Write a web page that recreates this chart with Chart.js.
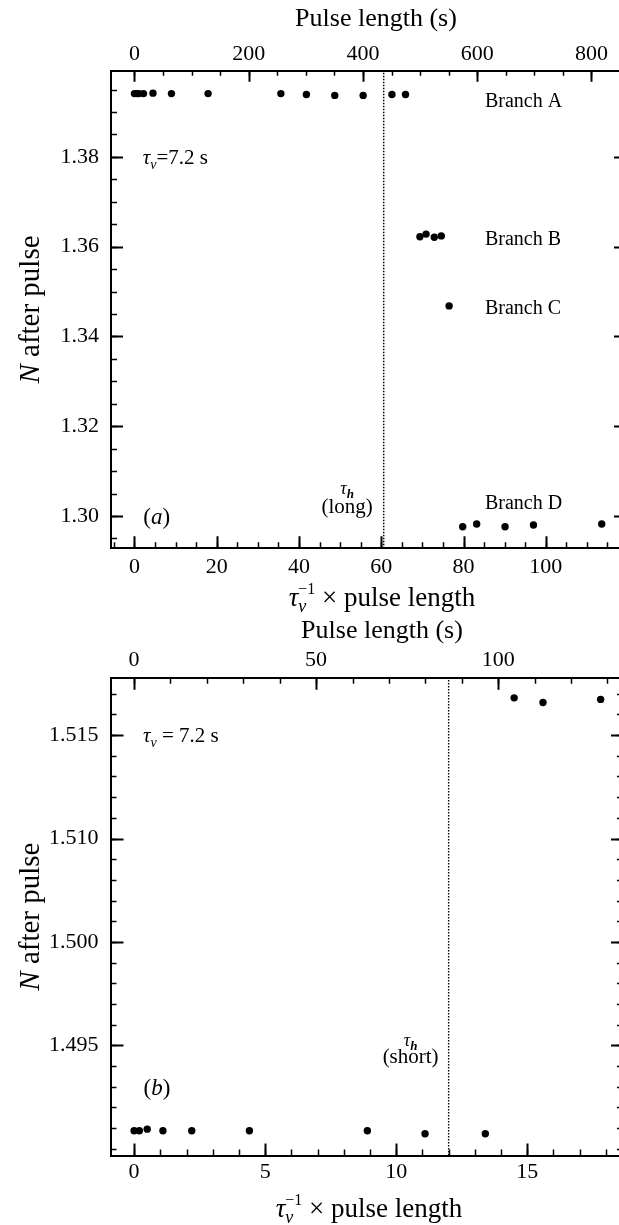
<!DOCTYPE html>
<html>
<head>
<meta charset="utf-8">
<title>N after pulse</title>
<script src="https://cdn.jsdelivr.net/npm/chart.js@4.4.1/dist/chart.umd.min.js"></script>
<style>
  html, body { margin: 0; padding: 0; background: #fff; }
  #wrap { position: relative; width: 619px; height: 1225px; overflow: hidden; }
  canvas { position: absolute; left: 0; }
  #chartA { top: 0; }
  #chartB { top: 615px; }
</style>
</head>
<body>
<div id="wrap">
  <canvas id="chartA" width="619" height="615"></canvas>
  <canvas id="chartB" width="619" height="610"></canvas>
</div>
<script>
const TAU_V = 7.2; // s, converts tau_v^-1 x pulse length into seconds

// ---- panel (a): long tau_h ----
const branchA_x = [0, 0.6, 1.1, 2.2, 4.5, 9.0, 17.9, 35.6, 41.8, 48.7, 55.6, 62.6, 65.9];
const branchA_N = [1.3941, 1.3941, 1.3941, 1.3941, 1.3942, 1.3941, 1.3941, 1.3941, 1.3939, 1.3937, 1.3937, 1.3939, 1.3939];
const branchB_x = [69.4, 70.9, 72.9, 74.6];
const branchB_N = [1.3622, 1.3628, 1.3621, 1.3624];
const branchC_x = [76.5];
const branchC_N = [1.3468];
const branchD_x = [79.8, 83.2, 90.1, 97.0, 113.6];
const branchD_N = [1.2976, 1.2982, 1.2976, 1.2980, 1.2982];
const tauH_long = 60.6;

const xTicksA = [0, 20, 40, 60, 80, 100];
const pulseTicksA = [0, 200, 400, 600, 800];
const yTicksA = [1.30, 1.32, 1.34, 1.36, 1.38];

// ---- panel (b): short tau_h ----
const lowB_x = [0, 0.2, 0.5, 1.1, 2.2, 4.4, 8.9, 11.1, 13.4];
const lowB_N = [1.4895, 1.4895, 1.4896, 1.4895, 1.4895, 1.4895, 1.4895, 1.4893, 1.4893];
const highB_x = [14.5, 15.6, 17.8];
const highB_N = [1.5174, 1.5171, 1.5173];
const tauH_short = 12.0;

const xTicksB = [0, 5, 10, 15];
const pulseTicksB = [0, 50, 100];
const yTicksB = [1.495, 1.50167, 1.50833, 1.515];
const yLabelsB = ['1.495', '1.500', '1.510', '1.515'];

const SERIF = '"Liberation Serif", "Times New Roman", Times, serif';
const font = (px, style) => (style ? style + ' ' : '') + px + 'px ' + SERIF;

function pts(xs, ys) { return xs.map((x, i) => ({ x: x, y: ys[i] })); }
function range(from, to, step) {
  const out = [];
  const n = Math.round((to - from) / step);
  for (let i = 0; i <= n; i++) out.push(Math.round((from + i * step) * 1e6) / 1e6);
  return out;
}

function dots(data) {
  return { data: data, pointRadius: 3.7, pointBackgroundColor: '#000', pointBorderWidth: 0, showLine: false };
}
function dotted(x, yMin, yMax) {
  return { type: 'line', data: [{ x: x, y: yMin }, { x: x, y: yMax }], borderColor: '#000',
           borderWidth: 1.4, borderDash: [1.5, 1.5], pointRadius: 0 };
}

// draw a row of text pieces (text, font, dy, noAdvance) starting at x on baseline y
function drawRuns(ctx, runs, x, y, align) {
  let w = 0;
  for (const r of runs) { ctx.font = r[1]; if (!r[3]) w += ctx.measureText(r[0]).width; }
  let cx = align === 'center' ? x - w / 2 : x;
  for (const r of runs) {
    ctx.font = r[1];
    ctx.fillText(r[0], cx, y + (r[2] || 0));
    if (!r[3]) cx += ctx.measureText(r[0]).width;
  }
}

// inward tick marks on all four sides
const tickMarks = {
  id: 'tickMarks',
  afterDraw(chart, args, opts) {
    const ctx = chart.ctx, a = chart.chartArea;
    ctx.save();
    ctx.strokeStyle = '#000';
    for (const m of opts.marks) {
      const s = chart.scales[m.axis];
      ctx.lineWidth = m.width;
      ctx.beginPath();
      for (const v of m.values) {
        const p = Math.round(s.getPixelForValue(v)) + 0.5;
        if (m.side === 'bottom') { ctx.moveTo(p, a.bottom); ctx.lineTo(p, a.bottom - m.len); }
        else if (m.side === 'top') { ctx.moveTo(p, a.top); ctx.lineTo(p, a.top + m.len); }
        else if (m.side === 'left') { ctx.moveTo(a.left, p); ctx.lineTo(a.left + m.len, p); }
        else { ctx.moveTo(a.right, p); ctx.lineTo(a.right - m.len, p); }
      }
      ctx.stroke();
    }
    ctx.restore();
  }
};

const bottomTitle = [
  ['\u03c4', font(27, 'italic')],
  ['v', font(18, 'italic'), 6, true],
  ['\u22121', font(16), -12],
  [' \u00d7 pulse length', font(27)]
];
const sideTitle = [['N', font(29, 'italic')], [' after pulse', font(29)]];

function tauV(sep) {
  return [['\u03c4', font(21, 'italic')], ['v', font(14, 'italic'), 5], [sep + '7.2 s', font(21)]];
}
function tauH() {
  return [['\u03c4', font(18, 'italic')], ['h', font(13, 'bold italic'), 4]];
}
function panelTag(letter) {
  return [['(', font(23)], [letter, font(23, 'italic')], [')', font(23)]];
}

function drawSide(ctx, cx, cy) {
  ctx.save();
  ctx.translate(cx, cy);
  ctx.rotate(-Math.PI / 2);
  drawRuns(ctx, sideTitle, 0, 9, 'center');
  ctx.restore();
}

function textPlugin(id, fn) {
  return {
    id: id,
    afterDraw(chart) {
      const { ctx, chartArea, scales } = chart;
      const px = v => scales.x.getPixelForValue(v);
      const py = v => scales.y.getPixelForValue(v);
      ctx.save();
      ctx.fillStyle = '#000';
      ctx.textBaseline = 'alphabetic';
      ctx.textAlign = 'left';
      fn(ctx, chartArea, px, py);
      ctx.restore();
    }
  };
}

function makePanel(canvas, p) {
  const tickFont = { family: SERIF, size: 22 };
  const axisBase = {
    type: 'linear',
    grid: { display: false, drawTicks: false },
    border: { display: true, color: '#000', width: 2 }
  };
  return new Chart(canvas, {
    type: 'scatter',
    data: { datasets: p.datasets },
    options: {
      responsive: false,
      animation: false,
      devicePixelRatio: 1,
      layout: { padding: 0, autoPadding: false },
      plugins: {
        legend: { display: false },
        tooltip: { enabled: false },
        tickMarks: { marks: p.marks }
      },
      scales: {
        x: Object.assign({}, axisBase, {
          position: 'bottom', min: p.xMin, max: p.xMax,
          afterBuildTicks: s => { s.ticks = p.xTicks.map(v => ({ value: v })); },
          afterFit: s => { s.height = p.bottomH; },
          ticks: { font: tickFont, color: '#000', padding: p.bottomPad, autoSkip: false, maxRotation: 0,
                   callback: v => String(v) }
        }),
        x2: Object.assign({}, axisBase, {
          axis: 'x', position: 'top', min: p.xMin * TAU_V, max: p.xMax * TAU_V,
          afterBuildTicks: s => { s.ticks = p.pulseTicks.map(v => ({ value: v })); },
          afterFit: s => { s.height = p.topH; },
          ticks: { font: tickFont, color: '#000', padding: p.topPad, autoSkip: false, maxRotation: 0,
                   callback: v => String(v) }
        }),
        y: Object.assign({}, axisBase, {
          position: 'left', min: p.yMin, max: p.yMax,
          afterBuildTicks: s => { s.ticks = p.yTicks.map(v => ({ value: v })); },
          afterFit: s => { s.width = p.leftW; },
          ticks: { font: tickFont, color: '#000', padding: 12, autoSkip: false,
                   callback: p.yLabel }
        })
      }
    },
    plugins: [tickMarks, p.text]
  });
}

// ---- panel (a) ----
const A = { xMin: -5.7, xMax: 117.8, yMin: 1.2928, yMax: 1.3992 };
makePanel(document.getElementById('chartA'), {
  xMin: A.xMin, xMax: A.xMax, yMin: A.yMin, yMax: A.yMax,
  xTicks: xTicksA, pulseTicks: pulseTicksA, yTicks: yTicksA,
  yLabel: v => v.toFixed(2),
  leftW: 111, topH: 70.7, bottomH: 66.7, topPad: 3, bottomPad: 6,
  datasets: [
    dots(pts(branchA_x, branchA_N)),
    dots(pts(branchB_x, branchB_N)),
    dots(pts(branchC_x, branchC_N)),
    dots(pts(branchD_x, branchD_N)),
    dotted(tauH_long, A.yMin, A.yMax)
  ],
  marks: [
    { axis: 'x', side: 'bottom', values: range(-5, 115, 5), len: 6, width: 1.5 },
    { axis: 'x', side: 'bottom', values: xTicksA, len: 12, width: 2 },
    { axis: 'x2', side: 'top', values: range(0, 800, 50), len: 5, width: 1.5 },
    { axis: 'x2', side: 'top', values: pulseTicksA, len: 11, width: 2 },
    { axis: 'y', side: 'left', values: range(1.295, 1.395, 0.005), len: 6, width: 1.5 },
    { axis: 'y', side: 'left', values: yTicksA, len: 12, width: 2 },
    { axis: 'y', side: 'right', values: yTicksA, len: 5, width: 2 }
  ],
  text: textPlugin('textA', (ctx, a, px, py) => {
    drawRuns(ctx, [['Pulse length (s)', font(26)]], 376, 26, 'center');
    drawRuns(ctx, bottomTitle, 382, 606, 'center');
    drawSide(ctx, 30, (a.top + a.bottom) / 2);
    drawRuns(ctx, tauV('='), px(2.0), py(1.38) + 7);
    drawRuns(ctx, [['Branch A', font(20)]], px(85.2), py(1.3926) + 7);
    drawRuns(ctx, [['Branch B', font(20)]], px(85.2), py(1.3619) + 7);
    drawRuns(ctx, [['Branch C', font(20)]], px(85.2), py(1.3466) + 7);
    drawRuns(ctx, [['Branch D', font(20)]], px(85.2), py(1.3032) + 7);
    drawRuns(ctx, panelTag('a'), px(5.4), py(1.30) + 8, 'center');
    drawRuns(ctx, tauH(), px(51.7), py(1.3054) + 2, 'center');
    drawRuns(ctx, [['(long)', font(21)]], px(51.7), py(1.3022) + 7, 'center');
  })
});

// ---- panel (b) ----
const B = { xMin: -0.9, xMax: 18.5, yMin: 1.4879, yMax: 1.5187 };
const minorB = range(1.495 - 5 * 0.02 / 15, 1.495 + 17 * 0.02 / 15, 0.02 / 15);
makePanel(document.getElementById('chartB'), {
  xMin: B.xMin, xMax: B.xMax, yMin: B.yMin, yMax: B.yMax,
  xTicks: xTicksB, pulseTicks: pulseTicksB, yTicks: yTicksB,
  yLabel: (v, i) => yLabelsB[i],
  leftW: 110.5, topH: 62.7, bottomH: 69.5, topPad: 4, bottomPad: 4,
  datasets: [
    dots(pts(lowB_x, lowB_N)),
    dots(pts(highB_x, highB_N)),
    dotted(tauH_short, B.yMin, B.yMax)
  ],
  marks: [
    { axis: 'x', side: 'bottom', values: range(0, 18, 1), len: 6, width: 1.5 },
    { axis: 'x', side: 'bottom', values: xTicksB, len: 12, width: 2 },
    { axis: 'x2', side: 'top', values: range(0, 130, 10), len: 6, width: 1.5 },
    { axis: 'x2', side: 'top', values: pulseTicksB, len: 12, width: 2 },
    { axis: 'y', side: 'left', values: minorB, len: 6, width: 1.5 },
    { axis: 'y', side: 'left', values: yTicksB, len: 13, width: 2 },
    { axis: 'y', side: 'right', values: minorB, len: 2, width: 1.5 },
    { axis: 'y', side: 'right', values: yTicksB, len: 8, width: 2 }
  ],
  text: textPlugin('textB', (ctx, a, px, py) => {
    drawRuns(ctx, [['Pulse length (s)', font(26)]], 382, 23, 'center');
    drawRuns(ctx, bottomTitle, 369, 602, 'center');
    drawSide(ctx, 30, (a.top + a.bottom) / 2);
    drawRuns(ctx, tauV(' = '), px(0.34), py(1.515) + 7);
    drawRuns(ctx, panelTag('b'), px(0.87), py(1.4923) + 8, 'center');
    drawRuns(ctx, tauH(), px(10.55), py(1.4951) + 2, 'center');
    drawRuns(ctx, [['(short)', font(21)]], px(10.55), py(1.4943) + 7, 'center');
  })
});
</script>
</body>
</html>
